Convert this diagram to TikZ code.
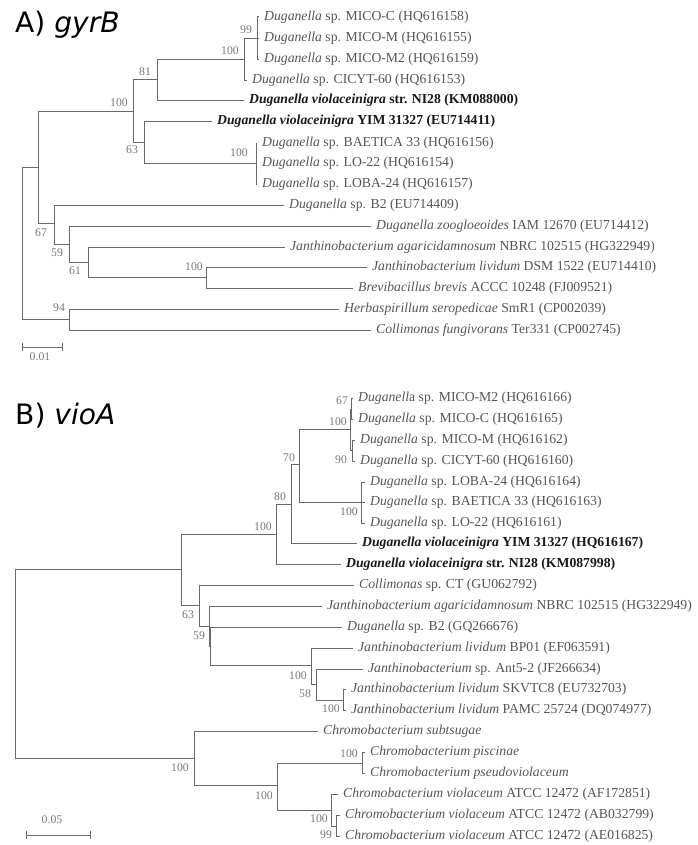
\documentclass[tikz,border=0pt]{standalone}
\usepackage{fontspec}
\setmainfont{Liberation Serif}
\newfontfamily\titlefont{DejaVu Sans}
\usetikzlibrary{arrows.meta, positioning}
\definecolor{treeline}{RGB}{105,105,105}
\definecolor{taxgray}{RGB}{85,85,85}
\definecolor{taxdark}{RGB}{25,25,25}
\definecolor{bootgray}{RGB}{120,120,120}
\tikzset{
  branch/.style={draw=treeline, line width=0.85pt},
  leaf/.style={anchor=west, inner xsep=4.2pt, inner ysep=1pt, text=taxgray,
               font=\fontsize{11.7}{13}\selectfont},
  keyleaf/.style={leaf, text=taxdark, font=\fontsize{11.7}{13}\selectfont\bfseries},
  boot/.style={inner sep=0pt, text=bootgray, font=\fontsize{10}{11}\selectfont},
  scalebar/.style={branch, {Bar[width=6pt]}-{Bar[width=6pt]}},
  paneltitle/.style={anchor=base west, inner sep=0pt, font=\titlefont\fontsize{24}{26}\selectfont},
}

\begin{document}
\begin{tikzpicture}[x=0.03cm, y=-0.03cm]
  \useasboundingbox (0,0) rectangle (697,845);

  % A) gyrB
  \node[paneltitle] (titleA) at (15,33) {A) \textit{gyrB}};

  \coordinate (rA)    at (22,243);
  \coordinate (a38)   at (38,167);
  \coordinate (a100)  at (133,111);
  \coordinate (a81)   at (157,79);
  \coordinate (a100m) at (244,59);
  \coordinate (a99)   at (257,38);
  \coordinate (a63)   at (144,142);
  \coordinate (a100b) at (256,163);
  \coordinate (a67)   at (54,223);
  \coordinate (a59)   at (69,244);
  \coordinate (a61)   at (88,262);
  \coordinate (a100j) at (206,277);
  \coordinate (a94)   at (69,319);

  \node[leaf] (lA1)  at (259,17)  {\textit{Duganella} sp. MICO-C (HQ616158)};
  \node[leaf] (lA2)  at (259,38)  {\textit{Duganella} sp. MICO-M (HQ616155)};
  \node[leaf] (lA3)  at (259,59)  {\textit{Duganella} sp. MICO-M2 (HQ616159)};
  \node[leaf] (lA4)  at (247,80)  {\textit{Duganella} sp. CICYT-60 (HQ616153)};
  \node[keyleaf] (lA5)  at (244,100) {\textit{Duganella violaceinigra} str. NI28 (KM088000)};
  \node[keyleaf] (lA6)  at (212,121) {\textit{Duganella violaceinigra} YIM 31327 (EU714411)};
  \node[leaf] (lA7)  at (257,143) {\textit{Duganella} sp. BAETICA 33 (HQ616156)};
  \node[leaf] (lA8)  at (257,163) {\textit{Duganella} sp. LO-22 (HQ616154)};
  \node[leaf] (lA9)  at (257,184) {\textit{Duganella} sp. LOBA-24 (HQ616157)};
  \node[leaf] (lA10) at (284,205) {\textit{Duganella} sp. B2 (EU714409)};
  \node[leaf] (lA11) at (371,226) {\textit{Duganella zoogloeoides} IAM 12670 (EU714412)};
  \node[leaf] (lA12) at (285,247) {\textit{Janthinobacterium agaricidamnosum} NBRC 102515 (HG322949)};
  \node[leaf] (lA13) at (367,267) {\textit{Janthinobacterium lividum} DSM 1522 (EU714410)};
  \node[leaf] (lA14) at (353,288) {\textit{Brevibacillus brevis} ACCC 10248 (FJ009521)};
  \node[leaf] (lA15) at (339,309) {\textit{Herbaspirillum seropedicae} SmR1 (CP002039)};
  \node[leaf] (lA16) at (371,330) {\textit{Collimonas fungivorans} Ter331 (CP002745)};

  \draw[branch] (rA) |- (a38);   \draw[branch] (rA) |- (a94);
  \draw[branch] (a38) |- (a100); \draw[branch] (a38) |- (a67);
  \draw[branch] (a100) |- (a81); \draw[branch] (a100) |- (a63);
  \draw[branch] (a81) |- (a100m); \draw[branch] (a81) |- (lA5.west);
  \draw[branch] (a100m) |- (a99); \draw[branch] (a100m) |- (lA4.west);
  \draw[branch] (a99) |- (lA1.west); \draw[branch] (a99) |- (lA2.west);
  \draw[branch] (a99) |- (lA3.west);
  \draw[branch] (a63) |- (lA6.west); \draw[branch] (a63) |- (a100b);
  \draw[branch] (a100b) |- (lA7.west); \draw[branch] (a100b) |- (lA8.west);
  \draw[branch] (a100b) |- (lA9.west);
  \draw[branch] (a67) |- (lA10.west); \draw[branch] (a67) |- (a59);
  \draw[branch] (a59) |- (lA11.west); \draw[branch] (a59) |- (a61);
  \draw[branch] (a61) |- (lA12.west); \draw[branch] (a61) |- (a100j);
  \draw[branch] (a100j) |- (lA13.west); \draw[branch] (a100j) |- (lA14.west);
  \draw[branch] (a94) |- (lA15.west); \draw[branch] (a94) |- (lA16.west);

  \node[boot] (bA1)  at (246,30)  {99};
  \node[boot] (bA2)  at (230,51)  {100};
  \node[boot] (bA3)  at (145,72)  {81};
  \node[boot] (bA4)  at (119,103) {100};
  \node[boot] (bA5)  at (132,150) {63};
  \node[boot] (bA6)  at (239,153) {100};
  \node[boot] (bA7)  at (41,233)  {67};
  \node[boot] (bA8)  at (57,253)  {59};
  \node[boot] (bA9)  at (75,271)  {61};
  \node[boot] (bA10) at (194,267) {100};
  \node[boot] (bA11) at (59,308)  {94};

  \coordinate (sA0) at (22,347);
  \coordinate (sA1) at (63,347);
  \draw[scalebar] (sA0) -- (sA1);
  \node[boot] (scA) at (40,357) {0.01};

  % B) vioA
  \node[paneltitle] (titleB) at (15,424) {B) \textit{vioA}};

  \coordinate (rB)    at (15,663);
  \coordinate (b181)  at (181,569);
  \coordinate (b276)  at (276,534);
  \coordinate (b80)   at (291,504);
  \coordinate (b70)   at (299,464);
  \coordinate (b100m) at (350,429);
  \coordinate (b67)   at (351,409);
  \coordinate (b90)   at (352,450);
  \coordinate (b100l) at (361,502);
  \coordinate (b63)   at (199,605);
  \coordinate (b59)   at (209,626);
  \coordinate (b59s)  at (210,646);
  \coordinate (bJ100) at (311,665);
  \coordinate (b58)   at (316,684);
  \coordinate (bS100) at (343,700);
  \coordinate (b194)  at (194,758);
  \coordinate (bC100) at (277,785);
  \coordinate (bP100) at (362,763);
  \coordinate (bV100) at (331,810);
  \coordinate (bV99)  at (336,826);

  \node[leaf] (lB1)  at (353,398) {\textit{Duganell}a sp. MICO-M2 (HQ616166)};
  \node[leaf] (lB2)  at (353,419) {\textit{Duganella} sp. MICO-C (HQ616165)};
  \node[leaf] (lB3)  at (355,440) {\textit{Duganella} sp. MICO-M (HQ616162)};
  \node[leaf] (lB4)  at (355,461) {\textit{Duganella} sp. CICYT-60 (HQ616160)};
  \node[leaf] (lB5)  at (365,482) {\textit{Duganella} sp. LOBA-24 (HQ616164)};
  \node[leaf] (lB6)  at (365,502) {\textit{Duganella} sp. BAETICA 33 (HQ616163)};
  \node[leaf] (lB7)  at (365,523) {\textit{Duganella} sp. LO-22 (HQ616161)};
  \node[keyleaf] (lB8)  at (357,543) {\textit{Duganella violaceinigra} YIM 31327 (HQ616167)};
  \node[keyleaf] (lB9)  at (341,564) {\textit{Duganella violaceinigra} str. NI28 (KM087998)};
  \node[leaf] (lB10) at (354,585) {\textit{Collimonas} sp. CT (GU062792)};
  \node[leaf] (lB11) at (322,606) {\textit{Janthinobacterium agaricidamnosum} NBRC 102515 (HG322949)};
  \node[leaf] (lB12) at (342,627) {\textit{Duganella} sp. B2 (GQ266676)};
  \node[leaf] (lB13) at (353,648) {\textit{Janthinobacterium lividum} BP01 (EF063591)};
  \node[leaf] (lB14) at (363,669) {\textit{Janthinobacterium} sp. Ant5-2 (JF266634)};
  \node[leaf] (lB15) at (346,689) {\textit{Janthinobacterium lividum} SKVTC8 (EU732703)};
  \node[leaf] (lB16) at (346,710) {\textit{Janthinobacterium lividum} PAMC 25724 (DQ074977)};
  \node[leaf] (lB17) at (318,731) {\textit{Chromobacterium subtsugae}};
  \node[leaf] (lB18) at (365,752) {\textit{Chromobacterium piscinae}};
  \node[leaf] (lB19) at (365,773) {\textit{Chromobacterium pseudoviolaceum}};
  \node[leaf] (lB20) at (338,794) {\textit{Chromobacterium violaceum} ATCC 12472 (AF172851)};
  \node[leaf] (lB21) at (340,815) {\textit{Chromobacterium violaceum} ATCC 12472 (AB032799)};
  \node[leaf] (lB22) at (340,836) {\textit{Chromobacterium violaceum} ATCC 12472 (AE016825)};

  \draw[branch] (rB) |- (b181);  \draw[branch] (rB) |- (b194);
  \draw[branch] (b181) |- (b276); \draw[branch] (b181) |- (b63);
  \draw[branch] (b276) |- (b80); \draw[branch] (b276) |- (lB9.west);
  \draw[branch] (b80) |- (b70);  \draw[branch] (b80) |- (lB8.west);
  \draw[branch] (b70) |- (b100m); \draw[branch] (b70) |- (b100l);
  \draw[branch] (b100m) |- (b67); \draw[branch] (b100m) |- (b90);
  \draw[branch] (b67) |- (lB1.west); \draw[branch] (b67) |- (lB2.west);
  \draw[branch] (b90) |- (lB3.west); \draw[branch] (b90) |- (lB4.west);
  \draw[branch] (b100l) |- (lB5.west); \draw[branch] (b100l) |- (lB6.west);
  \draw[branch] (b100l) |- (lB7.west);
  \draw[branch] (b63) |- (lB10.west); \draw[branch] (b63) |- (b59);
  \draw[branch] (b59) |- (lB11.west); \draw[branch] (b59) |- (b59s);
  \draw[branch] (b59s) |- (lB12.west); \draw[branch] (b59s) |- (bJ100);
  \draw[branch] (bJ100) |- (lB13.west); \draw[branch] (bJ100) |- (b58);
  \draw[branch] (b58) |- (lB14.west); \draw[branch] (b58) |- (bS100);
  \draw[branch] (bS100) |- (lB15.west); \draw[branch] (bS100) |- (lB16.west);
  \draw[branch] (b194) |- (lB17.west); \draw[branch] (b194) |- (bC100);
  \draw[branch] (bC100) |- (bP100); \draw[branch] (bC100) |- (bV100);
  \draw[branch] (bP100) |- (lB18.west); \draw[branch] (bP100) |- (lB19.west);
  \draw[branch] (bV100) |- (lB20.west); \draw[branch] (bV100) |- (bV99);
  \draw[branch] (bV99) |- (lB21.west); \draw[branch] (bV99) |- (lB22.west);

  \node[boot] (bB1)  at (342,401) {67};
  \node[boot] (bB2)  at (338,422) {100};
  \node[boot] (bB3)  at (341,460) {90};
  \node[boot] (bB4)  at (289,458) {70};
  \node[boot] (bB5)  at (280,497) {80};
  \node[boot] (bB6)  at (263,527) {100};
  \node[boot] (bB7)  at (349,512) {100};
  \node[boot] (bB8)  at (188,615) {63};
  \node[boot] (bB9)  at (199,636) {59};
  \node[boot] (bB10) at (298,676) {100};
  \node[boot] (bB11) at (305,694) {58};
  \node[boot] (bB12) at (331,709) {100};
  \node[boot] (bB13) at (180,768) {100};
  \node[boot] (bB14) at (264,796) {100};
  \node[boot] (bB15) at (349,754) {100};
  \node[boot] (bB16) at (319,819) {100};
  \node[boot] (bB17) at (326,835) {99};

  \coordinate (sB0) at (26,835);
  \coordinate (sB1) at (91,835);
  \draw[scalebar] (sB0) -- (sB1);
  \node[boot] (scB) at (52,820) {0.05};
\end{tikzpicture}
\end{document}
